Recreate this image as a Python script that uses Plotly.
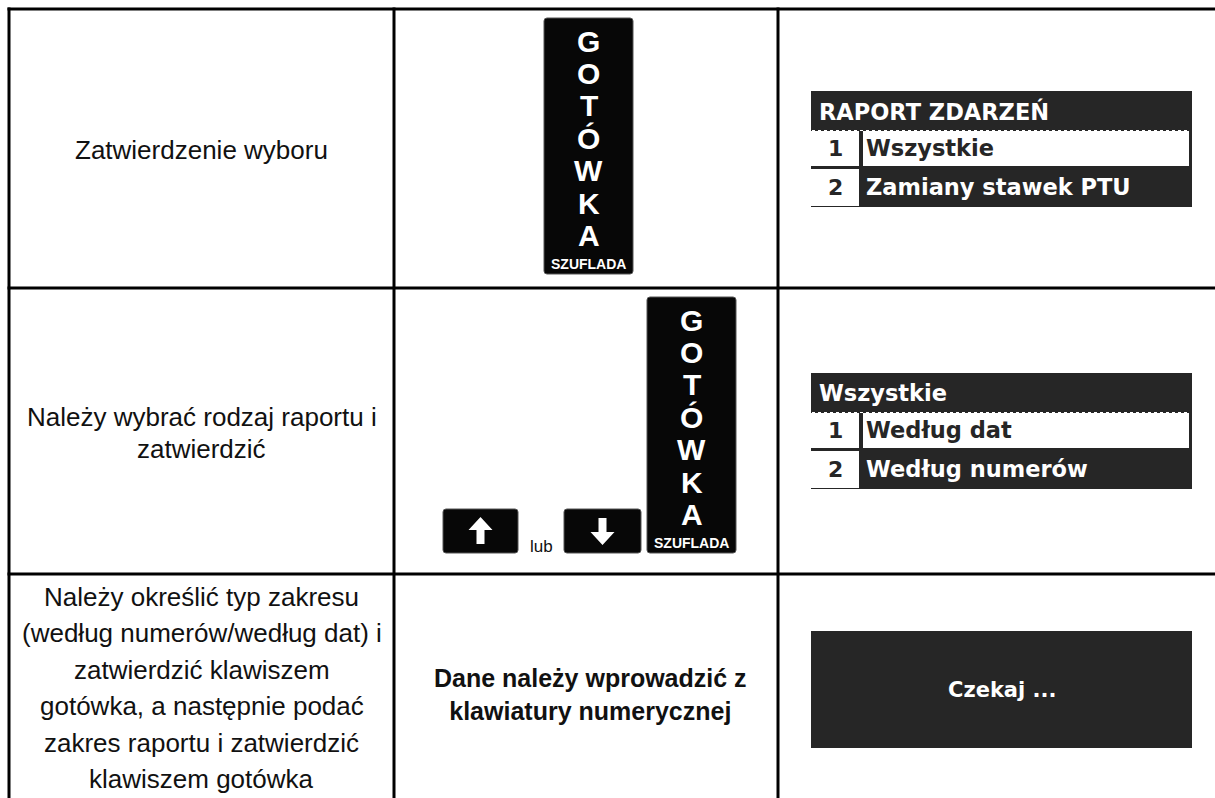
import plotly.graph_objects as go

# ---------------- content (text data) ----------------
left_texts = [
    ["Zatwierdzenie wyboru"],
    ["Należy wybrać rodzaj raportu i", "zatwierdzić"],
    ["Należy określić typ zakresu", "(według numerów/według dat) i", "zatwierdzić klawiszem",
     "gotówka, a następnie podać", "zakres raportu i zatwierdzić", "klawiszem gotówka"],
]
middle_note = ["Dane należy wprowadzić z", "klawiatury numerycznej"]
key_letters = ["G", "O", "T", "Ó", "W", "K", "A"]
key_caption = "SZUFLADA"
or_word = "lub"
menu_titles = ["RAPORT ZDARZEŃ", "Wszystkie"]
menu_numbers = ["1", "2"]
menu_items = [["Wszystkie", "Zamiany stawek PTU"], ["Według dat", "Według numerów"]]
wait_text = "Czekaj ..."

# ---------------- layout constants ----------------
W, H = 1215, 798
col_x = [9, 394, 778]
row_y = [9, 288, 574]
DARK = "#262626"
KEY = "#070707"
LEFT_FONT = dict(family="Liberation Sans, Arial, sans-serif", size=26, color="#111111")
MENU_FONT = "DejaVu Sans, sans-serif"

shapes = []
ann = []

def text(x, y, s, font, xanchor="center", yanchor="middle"):
    ann.append(dict(x=x, y=y, xref="x", yref="y", text=s, showarrow=False,
                    xanchor=xanchor, yanchor=yanchor, font=font))

def rect(x0, y0, x1, y1, fill, line=None, lw=0):
    shapes.append(dict(type="rect", xref="x", yref="y", x0=x0, y0=y0, x1=x1, y1=y1,
                       fillcolor=fill, line=dict(color=line or fill, width=lw), layer="above"))

def rrect(x0, y0, x1, y1, fill, line, r=3):
    p = (f"M {x0+r},{y0} L {x1-r},{y0} Q {x1},{y0} {x1},{y0+r} L {x1},{y1-r} Q {x1},{y1} {x1-r},{y1} "
         f"L {x0+r},{y1} Q {x0},{y1} {x0},{y1-r} L {x0},{y0+r} Q {x0},{y0} {x0+r},{y0} Z")
    shapes.append(dict(type="path", xref="x", yref="y", path=p, fillcolor=fill,
                       line=dict(color=line, width=1), layer="above"))

# grid rules
for x in col_x:
    shapes.append(dict(type="line", xref="x", yref="y", x0=x, x1=x, y0=row_y[0] - 1.5, y1=H + 5,
                       line=dict(color="black", width=3)))
for y in row_y:
    shapes.append(dict(type="line", xref="x", yref="y", x0=col_x[0] - 1.5, x1=W + 5, y0=y, y1=y,
                       line=dict(color="black", width=3)))

# left column
left_cx = (col_x[0] + col_x[1]) / 2
row_centers = [150, 433, 688]
gaps = [36, 32, 36.4]
for lines, cy, gap in zip(left_texts, row_centers, gaps):
    n = len(lines)
    for i, s in enumerate(lines):
        text(left_cx, cy + (i - (n - 1) / 2) * gap, s, LEFT_FONT)

# GOTÓWKA keys
def cash_key(x0, y0):
    rrect(x0, y0, x0 + 89, y0 + 256, KEY, "#555555")
    cx = x0 + 44.5
    for i, ch in enumerate(key_letters):
        text(cx, y0 + 23 + i * 32.4, ch,
             dict(family="Liberation Sans, Arial, sans-serif", size=30, color="white", weight="bold"))
    text(cx, y0 + 246, key_caption,
         dict(family="Liberation Sans Narrow, Arial Narrow, sans-serif", size=14, color="white", weight="bold"))

cash_key(544, 18)
cash_key(647, 297)

# arrow keys
def arrow_key(x0, x1, up):
    rrect(x0, 509, x1, 553, KEY, "#555555")
    cx, cy = (x0 + x1) / 2, 531
    s = -1 if up else 1
    pts = [(cx, cy + s * 14), (cx + 12, cy + s * 1), (cx + 4, cy + s * 1), (cx + 4, cy - s * 13),
           (cx - 4, cy - s * 13), (cx - 4, cy + s * 1), (cx - 12, cy + s * 1)]
    path = "M " + " L ".join(f"{px},{py}" for px, py in pts) + " Z"
    shapes.append(dict(type="path", xref="x", yref="y", path=path, fillcolor="white",
                       line=dict(color="white", width=0), layer="above"))

arrow_key(443, 518, True)
arrow_key(564, 641, False)
text(541, 546, or_word, dict(family="Liberation Sans, Arial, sans-serif", size=17, color="#111111"))

# middle row 3 bold note (single multi-line text)
mid_cx = (col_x[1] + col_x[2]) / 2 + 4
text(mid_cx, 694, "<br>".join(middle_note),
     dict(family="Liberation Sans, Arial, sans-serif", size=25, color="#111111", weight="bold"))

# menu displays
def menu(y0, title, items):
    rect(811, y0, 1192, y0 + 116, DARK)
    text(817, y0 + 20, title, dict(family=MENU_FONT, size=22.5, color="white", weight="bold"), xanchor="left")
    shapes.append(dict(type="line", xref="x", yref="y", x0=812, x1=1190, y0=y0 + 39.5, y1=y0 + 39.5,
                       line=dict(color="white", width=1, dash="dot"), layer="above"))
    rect(811, y0 + 40, 859, y0 + 75, "white")
    rect(863, y0 + 40, 1189, y0 + 75, "white")
    rect(811, y0 + 78, 859, y0 + 115, "white")
    for i, (num, item) in enumerate(zip(menu_numbers, items)):
        cy = y0 + (57 if i == 0 else 96)
        text(835, cy, num, dict(family=MENU_FONT, size=22, color=DARK, weight="bold"))
        text(864, cy, item, dict(family=MENU_FONT, size=22.5, color=DARK if i == 0 else "white",
                                 weight="bold"), xanchor="left")

menu(91, menu_titles[0], menu_items[0])
menu(373, menu_titles[1], menu_items[1])

rect(811, 631, 1192, 748, DARK)
text(1002, 690, wait_text, dict(family=MENU_FONT, size=21, color="white", weight="bold"))

fig = go.Figure()
fig.add_trace(go.Scatter(x=[0, W], y=[0, H], mode="markers", marker=dict(opacity=0),
                         hoverinfo="skip", showlegend=False))
fig.update_layout(
    width=W, height=H, margin=dict(l=0, r=0, t=0, b=0),
    paper_bgcolor="white", plot_bgcolor="white",
    xaxis=dict(range=[0, W], visible=False, fixedrange=True),
    yaxis=dict(range=[H, 0], visible=False, fixedrange=True),
    shapes=shapes, annotations=ann, showlegend=False,
)
fig.write_html("out.html", config={"displayModeBar": False},
               post_script="document.body.style.margin='0';document.body.style.overflow='hidden';")
